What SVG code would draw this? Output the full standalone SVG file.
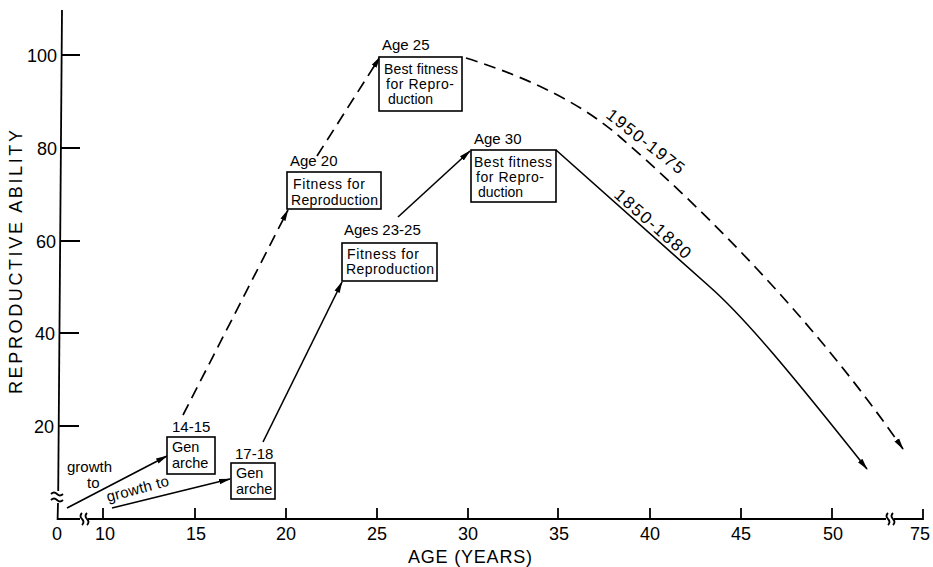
<svg xmlns="http://www.w3.org/2000/svg" width="933" height="567" viewBox="0 0 933 567">
<style>
text{font-family:"Liberation Sans","DejaVu Sans",sans-serif;fill:#000}
.ax{stroke:#000;stroke-width:1.8;fill:none}
.tk{font-size:18px}
.lab{font-size:15px}
.gn{font-size:14.5px}
.bx{font-size:14px}
.box{fill:#fff;stroke:#000;stroke-width:1.6}
.sol{stroke:#000;stroke-width:1.6;fill:none}
.dash{stroke:#000;stroke-width:1.7;fill:none;stroke-dasharray:12 7}
</style>
<defs>
<marker id="ah" markerUnits="userSpaceOnUse" markerWidth="12" markerHeight="8" viewBox="0 0 12 8" refX="11" refY="4" orient="auto">
<path d="M0,1.2 L12,4 L0,6.8 z" fill="#000"/>
</marker>
</defs>
<rect width="933" height="567" fill="#fff"/>

<g id="axes">
<path class="ax" d="M62,10 L58.2,491"/>
<path class="ax" d="M58,503 L57.6,519 L80,519"/>
<path class="ax" d="M51,494 q3,-3 6,0 t6,0 M51,500 q3,-3 6,0 t6,0" stroke-width="1.4"/>
<path class="ax" d="M88,519 L886,519"/>
<path class="ax" d="M894,519 L923,519 L923,509"/>
<path class="ax" d="M82,513 q-3,3 0,6 t0,6 M87,513 q-3,3 0,6 t0,6" stroke-width="1.4"/>
<path class="ax" d="M888,513 q-3,3 0,6 t0,6 M893,513 q-3,3 0,6 t0,6" stroke-width="1.4"/>
<path class="ax" d="M61.6,55 H80 M61,148 H80 M60.5,241 H80 M59.8,333 H79 M59.2,426 H79"/>
<path class="ax" d="M103,519 V508 M195,519 V508 M286,519 V508 M377,519 V508 M468,519 V508 M558,519 V508 M650,519 V508 M741,519 V508 M832,519 V508"/>
<g class="tk" text-anchor="end">
<text x="57" y="61.5">100</text>
<text x="57" y="154.5">80</text>
<text x="56" y="247.5">60</text>
<text x="55" y="339.5">40</text>
<text x="54" y="432.5">20</text>
</g>
<g class="tk" text-anchor="middle">
<text x="57" y="540">0</text>
<text x="105" y="540">10</text>
<text x="196" y="540">15</text>
<text x="286" y="540">20</text>
<text x="377" y="540">25</text>
<text x="468" y="540">30</text>
<text x="559" y="540">35</text>
<text x="650" y="540">40</text>
<text x="741" y="540">45</text>
<text x="833" y="540">50</text>
<text x="920" y="540">75</text>
</g>
<text x="470" y="563" text-anchor="middle" font-size="18" textLength="124" lengthAdjust="spacing">AGE (YEARS)</text>
<text transform="translate(22,262) rotate(-90)" text-anchor="middle" font-size="18" textLength="264" lengthAdjust="spacing">REPRODUCTIVE ABILITY</text>
</g>

<g id="connectors">
<path class="sol" d="M67,508 L167,456" marker-end="url(#ah)"/>
<path class="sol" d="M112,508 L230,479" marker-end="url(#ah)"/>
<path class="dash" d="M183,415 L288,210" marker-end="url(#ah)"/>
<path class="dash" d="M317,156 L380,57" marker-end="url(#ah)"/>
<path class="sol" d="M263,442 L342,282" marker-end="url(#ah)"/>
<path class="sol" d="M398,217 L470,151" marker-end="url(#ah)"/>
<path class="dash" d="M466,58 Q565,89 620,137 C680,189 800,300 903,449" marker-end="url(#ah)"/>
<path class="sol" d="M556,150 L710,287 C745,318 790,372 867,469" marker-end="url(#ah)"/>
<text class="lab" x="67" y="472">growth</text>
<text class="lab" x="87" y="488">to</text>
<text class="lab" transform="translate(108,502) rotate(-15)" textLength="64" lengthAdjust="spacing">growth to</text>
<text transform="translate(642,146) rotate(38)" text-anchor="middle" font-size="17" textLength="94" lengthAdjust="spacing">1950-1975</text>
<text transform="translate(649,228) rotate(41.5)" text-anchor="middle" font-size="17" textLength="96" lengthAdjust="spacing">1850-1880</text>
</g>

<g id="node-14-15">
<text class="lab" x="172" y="432">14-15</text>
<rect class="box" x="167" y="437" width="48" height="37"/>
<text class="gn" x="172" y="452">Gen</text>
<text class="gn" x="172" y="468">arche</text>
</g>

<g id="node-17-18">
<text class="lab" x="235" y="459">17-18</text>
<rect class="box" x="231" y="463" width="44" height="36"/>
<text class="gn" x="236" y="478">Gen</text>
<text class="gn" x="236" y="494">arche</text>
</g>

<g id="node-age20">
<text class="lab" x="290" y="166">Age 20</text>
<rect class="box" x="287" y="172" width="94" height="37"/>
<text class="bx" x="293" y="189" textLength="72" lengthAdjust="spacing">Fitness for</text>
<text class="bx" x="291" y="205" textLength="87" lengthAdjust="spacing">Reproduction</text>
</g>

<g id="node-age25">
<text class="lab" x="382" y="50">Age 25</text>
<rect class="box" x="379" y="57" width="83" height="54"/>
<text class="bx" x="384" y="74" textLength="74" lengthAdjust="spacing">Best fitness</text>
<text class="bx" x="386" y="89" textLength="68" lengthAdjust="spacing">for Repro-</text>
<text class="bx" x="388" y="104">duction</text>
</g>

<g id="node-age30">
<text class="lab" x="474" y="144">Age 30</text>
<rect class="box" x="471" y="150" width="85" height="52"/>
<text class="bx" x="474" y="167" textLength="78" lengthAdjust="spacing">Best fitness</text>
<text class="bx" x="476" y="182" textLength="68" lengthAdjust="spacing">for Repro-</text>
<text class="bx" x="478" y="197">duction</text>
</g>

<g id="node-ages23-25">
<text class="lab" x="344" y="235">Ages 23-25</text>
<rect class="box" x="342" y="243" width="95" height="38"/>
<text class="bx" x="347" y="259" textLength="72" lengthAdjust="spacing">Fitness for</text>
<text class="bx" x="346" y="274" textLength="88" lengthAdjust="spacing">Reproduction</text>
</g>
</svg>
